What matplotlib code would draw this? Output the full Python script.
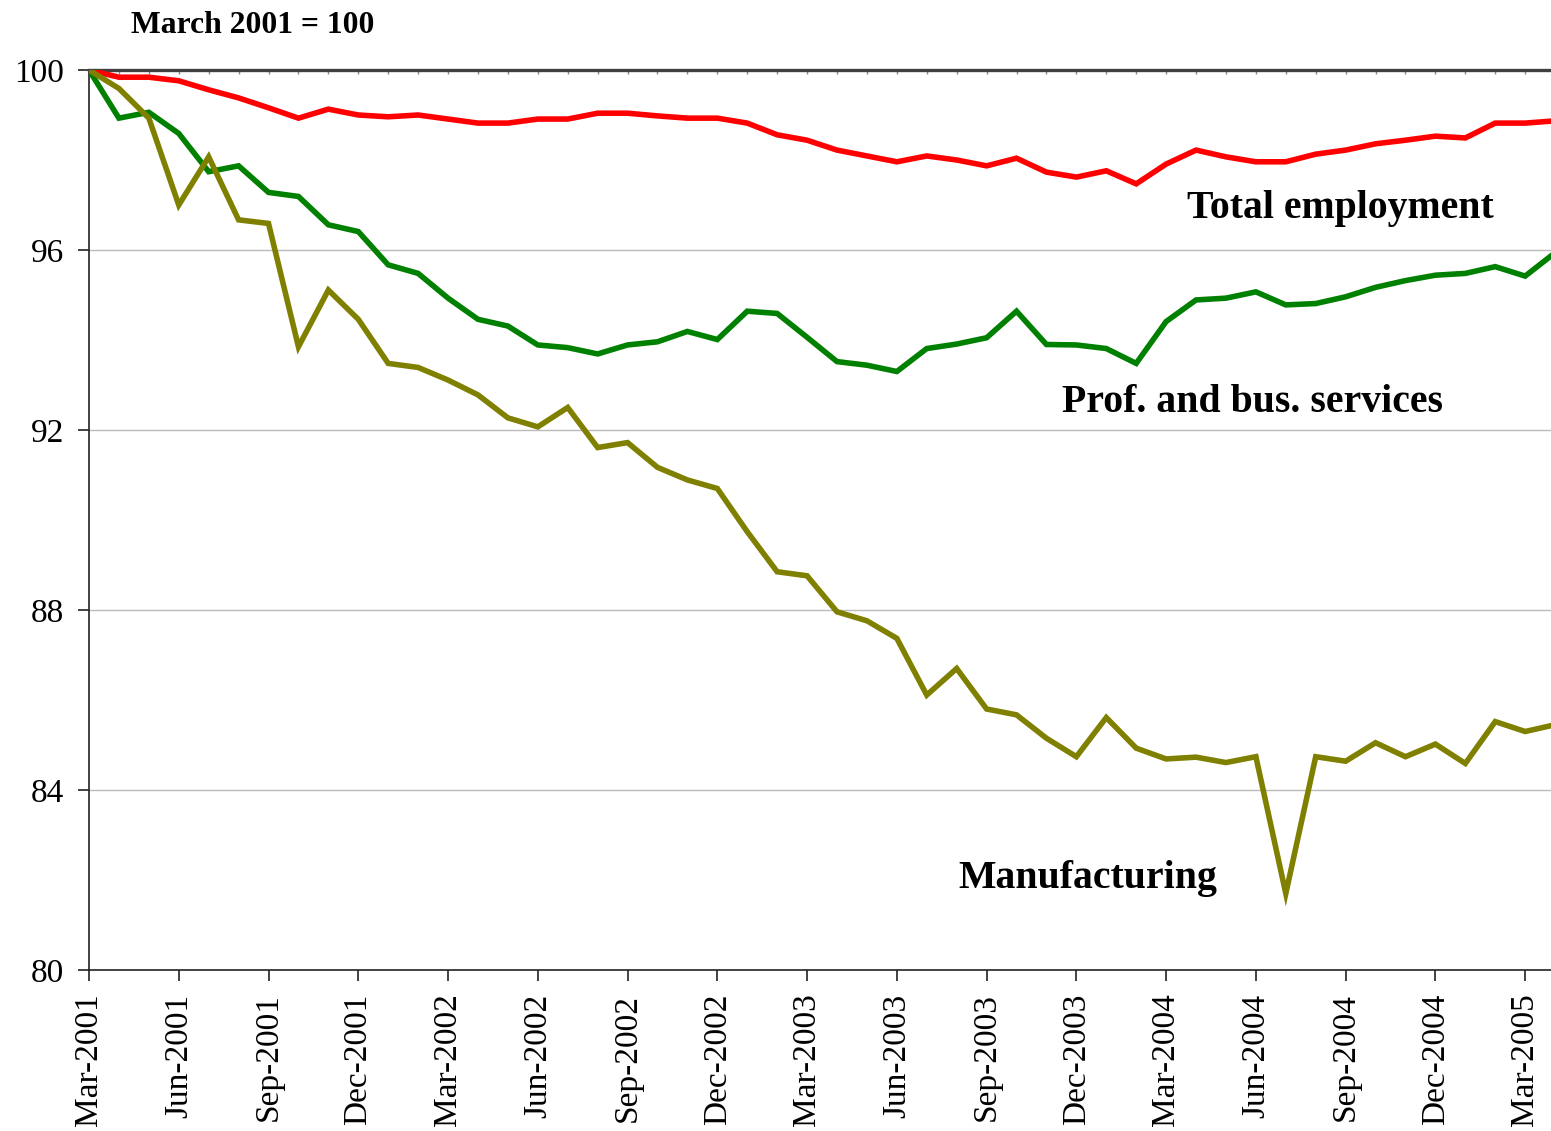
import matplotlib
matplotlib.use("Agg")
import matplotlib.pyplot as plt
import numpy as np

# ---- data ----
month_names = ["Jan", "Feb", "Mar", "Apr", "May", "Jun",
               "Jul", "Aug", "Sep", "Oct", "Nov", "Dec"]
months = []
for k in range(50):
    m = (2 + k) % 12
    y = 2001 + (2 + k) // 12
    months.append(f"{month_names[m]}-{y}")

total_employment = [100.00, 99.84, 99.84, 99.76, 99.56, 99.38, 99.16, 98.93, 99.13, 99.00,
                    98.96, 99.00, 98.91, 98.82, 98.82, 98.91, 98.91, 99.04, 99.04, 98.98,
                    98.93, 98.93, 98.82, 98.56, 98.44, 98.22, 98.09, 97.96, 98.09, 98.00,
                    97.87, 98.04, 97.73, 97.62, 97.76, 97.47, 97.91, 98.22, 98.07, 97.96,
                    97.96, 98.13, 98.22, 98.36, 98.44, 98.53, 98.49, 98.82, 98.82, 98.87]

prof_bus_services = [100.00, 98.93, 99.06, 98.59, 97.74, 97.87, 97.28, 97.19, 96.56, 96.41,
                     95.67, 95.48, 94.93, 94.46, 94.31, 93.89, 93.83, 93.69, 93.89, 93.96,
                     94.19, 94.01, 94.64, 94.59, 94.06, 93.52, 93.44, 93.30, 93.81, 93.91,
                     94.05, 94.64, 93.90, 93.89, 93.81, 93.48, 94.41, 94.89, 94.93, 95.07,
                     94.78, 94.81, 94.96, 95.17, 95.32, 95.44, 95.48, 95.63, 95.42, 95.94]

manufacturing = [100.00, 99.59, 98.93, 97.00, 98.07, 96.67, 96.59, 93.85, 95.11, 94.46,
                 93.48, 93.39, 93.11, 92.78, 92.27, 92.07, 92.50, 91.61, 91.72, 91.17,
                 90.89, 90.70, 89.74, 88.85, 88.76, 87.96, 87.76, 87.37, 86.11, 86.70,
                 85.80, 85.67, 85.15, 84.74, 85.61, 84.93, 84.69, 84.73, 84.61, 84.74,
                 81.70, 84.74, 84.64, 85.05, 84.74, 85.02, 84.59, 85.52, 85.30, 85.45]

series_labels = ["Total employment", "Prof. and bus. services", "Manufacturing"]
y_ticks = [80, 84, 88, 92, 96, 100]
title_text = "March 2001 = 100"

# ---- plot ----
plt.rcParams['font.family'] = ['Liberation Serif', 'DejaVu Serif']

fig = plt.figure(figsize=(15.51, 11.31), dpi=100)
ax = fig.add_axes([89 / 1551, 161 / 1131, 1 - 89 / 1551, 900 / 1131])

x = np.arange(len(months))
ax.plot(x, total_employment, color="#FF0000", lw=4.0, zorder=4, solid_joinstyle='miter')
ax.plot(x, prof_bus_services, color="#008000", lw=4.0, zorder=4, solid_joinstyle='miter')
ax.plot(x, manufacturing, color="#808000", lw=4.0, zorder=4, solid_joinstyle='miter')

ax.set_ylim(80, 100)
ax.set_xlim(0, (1551 - 89) / 29.92)

for yv in y_ticks[1:-1]:
    ax.axhline(yv, color="#BBBBBB", lw=1.0, zorder=1)
ax.axhline(100, color="#404040", lw=2.4, zorder=3, clip_on=False)

ax.spines['top'].set_visible(False)
ax.spines['right'].set_visible(False)
ax.spines['left'].set_linewidth(1.2)
ax.spines['bottom'].set_linewidth(1.2)
ax.spines['left'].set_color("#222222")
ax.spines['bottom'].set_color("#222222")

ax.set_yticks(y_ticks)
ax.set_yticklabels([str(v) for v in y_ticks])
tick_idx = list(range(0, len(months), 3))
ax.set_xticks(tick_idx)
ax.set_xticklabels([months[i] for i in tick_idx], rotation=90, va='top', ha='center')
ax.tick_params(axis='both', labelsize=24, length=8, width=1.2, direction='out', color="#222222")
ax.tick_params(axis='x', pad=9)
ax.tick_params(axis='y', pad=10)

# small monthly ticks under the 100 line
sec = ax.secondary_xaxis('top')
sec.set_xticks(x)
sec.set_xticklabels([])
sec.tick_params(direction='in', length=3, width=1, color="#888888")
sec.spines['top'].set_visible(False)

ax.text(36.7, 96.71, series_labels[0], fontsize=28.6, fontweight='bold', ha='left', va='baseline')
ax.text(32.52, 92.41, series_labels[1], fontsize=28.6, fontweight='bold', ha='left', va='baseline')
ax.text(29.04, 81.82, series_labels[2], fontsize=28.6, fontweight='bold', ha='left', va='baseline')

fig.text(131 / 1551, 1 - 33 / 1131, title_text, fontsize=22.8, fontweight='bold', ha='left', va='baseline')

fig.savefig("out.png", dpi=100)
